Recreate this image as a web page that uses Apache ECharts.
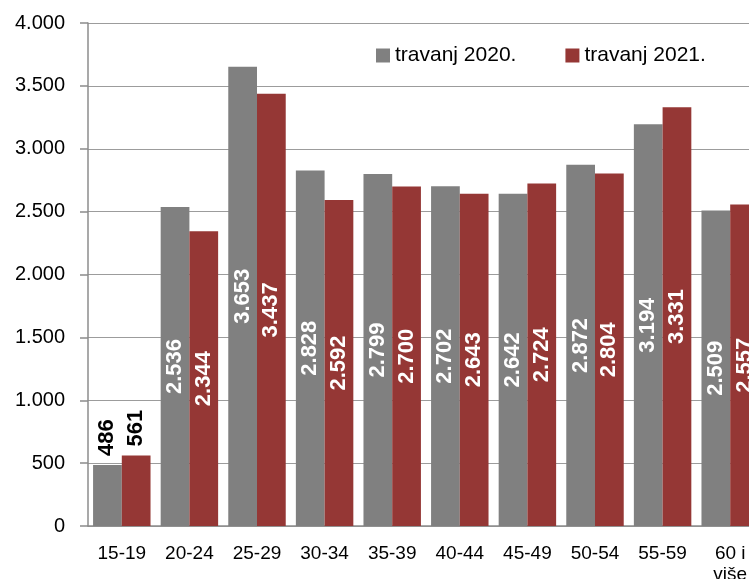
<!DOCTYPE html>
<html><head><meta charset="utf-8">
<script src="https://cdn.jsdelivr.net/npm/echarts@6/dist/echarts.min.js"></script>
<style>html,body{margin:0;padding:0;background:#fff}#c{width:749px;height:579px}</style>
</head><body><div id="c"></div>
<script>
const categories = ['15-19','20-24','25-29','30-34','35-39','40-44','45-49','50-54','55-59','60 i\nviše'];
const series2020 = [486, 2536, 3653, 2828, 2799, 2702, 2642, 2872, 3194, 2509];
const series2021 = [561, 2344, 3437, 2592, 2700, 2643, 2724, 2804, 3331, 2557];
const seriesNames = ['travanj 2020.', 'travanj 2021.'];
const colors = ['#808080', '#953735'];

const fmt = v => String(v).replace(/\B(?=(\d{3})+(?!\d))/g, '.');
const outsideLabel = {position:'top', rotate:90, align:'left', verticalAlign:'middle', color:'#000', distance:9};
function build(vals){
  return vals.map((v,i)=> v < 1000 ? {value:v, label:outsideLabel} : v);
}
const baseLabel = {show:true, position:'inside', rotate:90, color:'#fff', fontFamily:'Liberation Sans, Arial', fontWeight:'bold', fontSize:22, formatter:p=>fmt(p.value)};

const chart = echarts.init(document.getElementById('c'));
chart.setOption({
  animation:false,
  color: colors,
  legend:{
    top:40, left:371, itemGap:49, itemWidth:14, itemHeight:14, icon:'rect',
    textStyle:{fontFamily:'Liberation Sans, Arial', fontSize:21, color:'#000'}
  },
  grid:{left:88, top:23, width:676, bottom:53, containLabel:false, outerBoundsMode:'none'},
  xAxis:{
    type:'category', data:categories,
    axisLine:{lineStyle:{color:'#8c8c8c', width:1.5}},
    axisTick:{show:false},
    axisLabel:{fontFamily:'Liberation Sans, Arial', fontSize:19, color:'#000', margin:17, lineHeight:21, interval:0}
  },
  yAxis:{
    type:'value', min:0, max:4000, interval:500,
    axisLine:{show:true, lineStyle:{color:'#8c8c8c', width:1.5}},
    axisTick:{show:true, length:8, lineStyle:{color:'#8c8c8c', width:1.5}},
    splitLine:{lineStyle:{color:'#9c9c9c', width:1.2}},
    axisLabel:{fontFamily:'Liberation Sans, Arial', fontSize:20, color:'#000', margin:23, formatter:v=>fmt(v)}
  },
  series:[
    {name:seriesNames[0], type:'bar', data:build(series2020), barGap:'0%', barCategoryGap:'15%', label:baseLabel},
    {name:seriesNames[1], type:'bar', data:build(series2021), barGap:'0%', barCategoryGap:'15%', label:baseLabel}
  ]
});
</script></body></html>
